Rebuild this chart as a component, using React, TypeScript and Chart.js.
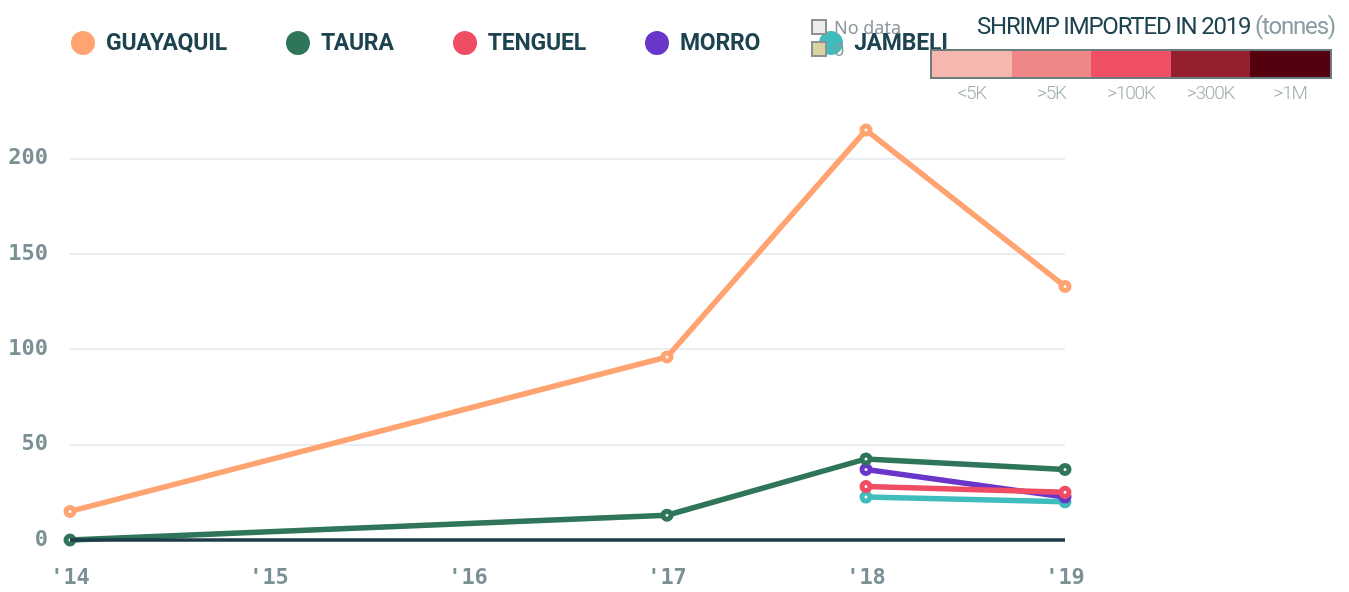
import React, { useEffect, useRef } from "react";
import { Chart, registerables } from "chart.js";

Chart.register(...registerables);

const years = ["'14", "'15", "'16", "'17", "'18", "'19"];
const seriesNames = ["GUAYAQUIL", "TAURA", "TENGUEL", "MORRO", "JAMBELI"];
const seriesColors = ["#ffa370", "#2e7559", "#ee4d63", "#6936c9", "#3fbcbc"];
const guayaquil = [15, null, null, 96, 215, 133];
const taura = [0, null, null, 13, 42.5, 37];
const tenguel = [null, null, null, null, 28, 25];
const morro = [null, null, null, null, 37, 22.5];
const jambeli = [null, null, null, null, 22.5, 20];
const yTicks = [0, 50, 100, 150, 200];

const scaleLabels = ["<5K", ">5K", ">100K", ">300K", ">1M"];
const scaleColors = ["#f5b7ae", "#f08787", "#ef5064", "#94202e", "#55000f"];

const DARK = "#1e4350";
const GRAY = "#7b9095";

const zeroLinePlugin = {
  id: "zeroLine",
  afterDatasetsDraw(chart: any) {
    const { ctx, chartArea, scales } = chart;
    const y = scales.y.getPixelForValue(0);
    ctx.save();
    ctx.strokeStyle = "#1c3d47";
    ctx.lineWidth = 3.5;
    ctx.beginPath();
    ctx.moveTo(chartArea.left, y);
    ctx.lineTo(chartArea.right, y);
    ctx.stroke();
    ctx.restore();
  },
};

export default function App() {
  const ref = useRef<HTMLCanvasElement>(null);

  useEffect(() => {
    const allData = [guayaquil, taura, tenguel, morro, jambeli];
    const tickFont = { family: "'DejaVu Sans Mono', monospace", weight: "bold" as const, size: 22 };
    const chart = new Chart(ref.current!, {
      type: "line",
      data: {
        labels: years,
        datasets: seriesNames.map((name, i) => ({
          label: name,
          data: allData[i],
          borderColor: seriesColors[i],
          backgroundColor: seriesColors[i],
          borderWidth: 5.5,
          pointRadius: 4,
          pointBorderWidth: 5,
          pointBackgroundColor: "#ffffff",
          pointBorderColor: seriesColors[i],
          spanGaps: true,
          tension: 0,
          clip: false as any,
        })),
      },
      options: {
        responsive: false,
        animation: false,
        layout: { padding: { left: 0, right: 284, top: 111, bottom: 2 } },
        plugins: { legend: { display: false }, tooltip: { enabled: false } },
        scales: {
          x: {
            offset: false,
            grid: { display: false, drawTicks: false },
            border: { display: false },
            afterFit: (axis: any) => {
              axis.height = 50;
            },
            ticks: {
              padding: 25,
              color: GRAY,
              font: tickFont,
              maxRotation: 0,
              autoSkip: false,
            },
          },
          y: {
            min: 0,
            max: 225,
            grid: { color: "#e9eeee", lineWidth: 2, drawTicks: false },
            border: { display: false },
            afterBuildTicks: (axis: any) => {
              axis.ticks = yTicks.map((v) => ({ value: v }));
            },
            afterFit: (axis: any) => {
              axis.width = 70;
            },
            ticks: {
              padding: 22,
              color: GRAY,
              font: tickFont,
            },
          },
        },
      },
      plugins: [zeroLinePlugin],
    });
    return () => chart.destroy();
  }, []);

  return (
    <div style={{ position: "absolute", left: 0, top: 0, width: 1349, height: 592, background: "#fff", overflow: "hidden" }}>
      <canvas ref={ref} width={1349} height={592} style={{ position: "absolute", left: 0, top: 0 }} />
      <div style={{ position: "absolute", left: 71, top: 31, display: "flex", alignItems: "center", gap: 59, zIndex: 1 }}>
        {seriesNames.map((name, i) => (
          <div key={name} style={{ display: "flex", alignItems: "center", gap: 11 }}>
            <span style={{ width: 24, height: 24, borderRadius: "50%", background: seriesColors[i], display: "inline-block" }} />
            <span style={{ fontFamily: "Roboto, sans-serif", fontWeight: 700, fontSize: 23, letterSpacing: -0.2, color: DARK, lineHeight: "24px" }}>{name}</span>
          </div>
        ))}
      </div>
      <div style={{ position: "absolute", left: 811, top: 16, zIndex: 2, fontFamily: "'Noto Sans', sans-serif", fontSize: 18, color: "#8c979b", lineHeight: "22px" }}>
        <div style={{ display: "flex", alignItems: "center", gap: 7 }}>
          <span style={{ width: 12, height: 12, border: "2px solid #8a9296", background: "#ececec", display: "inline-block" }} />
          <span>No data</span>
        </div>
        <div style={{ display: "flex", alignItems: "center", gap: 7 }}>
          <span style={{ width: 12, height: 12, border: "2px solid #8a9296", background: "#ddd3a0", display: "inline-block" }} />
          <span>0</span>
        </div>
      </div>
      <div style={{ position: "absolute", right: 14, top: 12, fontFamily: "Roboto, sans-serif", fontWeight: 400, fontSize: 24, letterSpacing: -1.2, color: DARK, whiteSpace: "nowrap", zIndex: 3, lineHeight: "28px" }}>
        SHRIMP IMPORTED IN 2019 <span style={{ color: "#8a9ca1" }}>(tonnes)</span>
      </div>
      <div style={{ position: "absolute", left: 930, top: 49, display: "flex", border: "2px solid #6b7b80", zIndex: 3 }}>
        {scaleColors.map((c) => (
          <span key={c} style={{ width: 79.6, height: 26, background: c, display: "inline-block" }} />
        ))}
      </div>
      <div style={{ position: "absolute", left: 932, top: 82, display: "flex", zIndex: 3 }}>
        {scaleLabels.map((l) => (
          <span key={l} style={{ width: 79.6, textAlign: "center", fontFamily: "Roboto, sans-serif", fontWeight: 300, fontSize: 19, letterSpacing: -1.2, color: "#a2adb0", lineHeight: "22px" }}>{l}</span>
        ))}
      </div>
    </div>
  );
}
